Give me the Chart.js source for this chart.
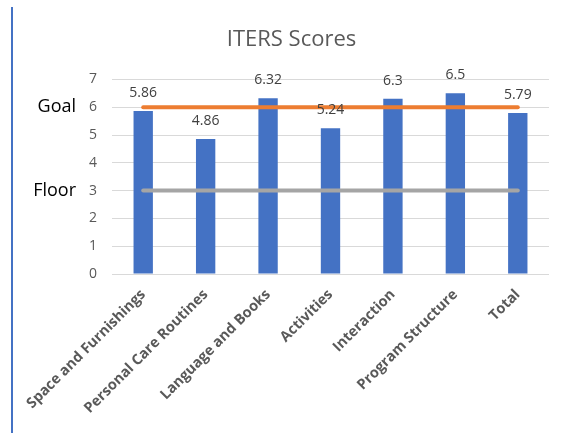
<!DOCTYPE html>
<html>
<head>
<meta charset="utf-8">
<script src="https://cdn.jsdelivr.net/npm/chart.js@4/dist/chart.umd.min.js"></script>
<style>
  html, body { margin: 0; padding: 0; background: #ffffff; }
  #wrap { position: relative; width: 563px; height: 433px; background: #ffffff; }
  #edge { position: absolute; left: 11px; top: 7px; width: 2px; height: 426px; background: #4472C4; }
  canvas { position: absolute; left: 0; top: 0; }
</style>
</head>
<body>
<div id="wrap">
  <canvas id="c" width="563" height="433"></canvas>
  <div id="edge"></div>
</div>
<script>
const categories = ['Space and Furnishings', 'Personal Care Routines', 'Language and Books', 'Activities', 'Interaction', 'Program Structure', 'Total'];
const scores = [5.86, 4.86, 6.32, 5.24, 6.3, 6.5, 5.79];
const goalValues = [6, 6, 6, 6, 6, 6, 6];
const floorValues = [3, 3, 3, 3, 3, 3, 3];
const yMin = 0;
const yMax = 7;
const yStep = 1;
const sideLabels = ['Goal', 'Floor'];
const sideValues = [6, 3];

const FONT = '"Open Sans"';

const annotate = {
  id: 'annotate',
  afterDraw(chart) {
    const ctx = chart.ctx;
    const meta = chart.getDatasetMeta(2);
    ctx.save();
    ctx.font = '14px ' + FONT;
    ctx.fillStyle = '#404040';
    ctx.textAlign = 'center';
    ctx.textBaseline = 'middle';
    meta.data.forEach((el, i) => {
      ctx.fillText(String(scores[i]), el.x, el.y - 18);
    });
    const ys = chart.scales.y;
    ctx.font = '18px ' + FONT;
    ctx.fillStyle = '#000000';
    ctx.textAlign = 'right';
    sideLabels.forEach((t, i) => {
      ctx.fillText(t, 76, ys.getPixelForValue(sideValues[i]));
    });
    ctx.restore();
  }
};

new Chart(document.getElementById('c'), {
  data: {
    labels: categories,
    datasets: [
      {
        type: 'line',
        label: 'Goal',
        data: goalValues,
        borderColor: '#ED7D31',
        backgroundColor: '#ED7D31',
        borderWidth: 4,
        borderCapStyle: 'round',
        pointRadius: 0,
        fill: false,
        order: 1
      },
      {
        type: 'line',
        label: 'Floor',
        data: floorValues,
        borderColor: '#A5A5A5',
        backgroundColor: '#A5A5A5',
        borderWidth: 4,
        borderCapStyle: 'round',
        pointRadius: 0,
        fill: false,
        order: 1
      },
      {
        type: 'bar',
        label: 'ITERS Scores',
        data: scores,
        backgroundColor: '#4472C4',
        borderWidth: 0,
        barPercentage: 0.31,
        categoryPercentage: 1,
        order: 2
      }
    ]
  },
  options: {
    responsive: false,
    animation: false,
    devicePixelRatio: 1,
    layout: { padding: { left: 34, right: 14, top: 0, bottom: 0 } },
    plugins: {
      legend: { display: false },
      tooltip: { enabled: false },
      title: {
        display: true,
        text: 'ITERS Scores',
        color: '#595959',
        font: { family: 'Open Sans', size: 22, weight: 'normal' },
        padding: { top: 27, bottom: 26 }
      }
    },
    scales: {
      x: {
        grid: { display: false, drawTicks: false },
        border: { display: false },
        ticks: {
          color: '#595959',
          font: { family: 'Open Sans', size: 14.5, weight: 'bold' },
          minRotation: 45,
          maxRotation: 45,
          autoSkip: false,
          padding: 12
        },
        afterFit(scale) { scale.height = 159; }
      },
      y: {
        min: yMin,
        max: yMax,
        ticks: {
          stepSize: yStep,
          color: '#595959',
          font: { family: 'Open Sans', size: 14 },
          padding: 15
        },
        grid: { color: '#D9D9D9', lineWidth: 1, drawTicks: false },
        border: { display: false },
        afterFit(scale) { scale.width = 78; }
      }
    }
  },
  plugins: [annotate]
});
</script>
</body>
</html>
